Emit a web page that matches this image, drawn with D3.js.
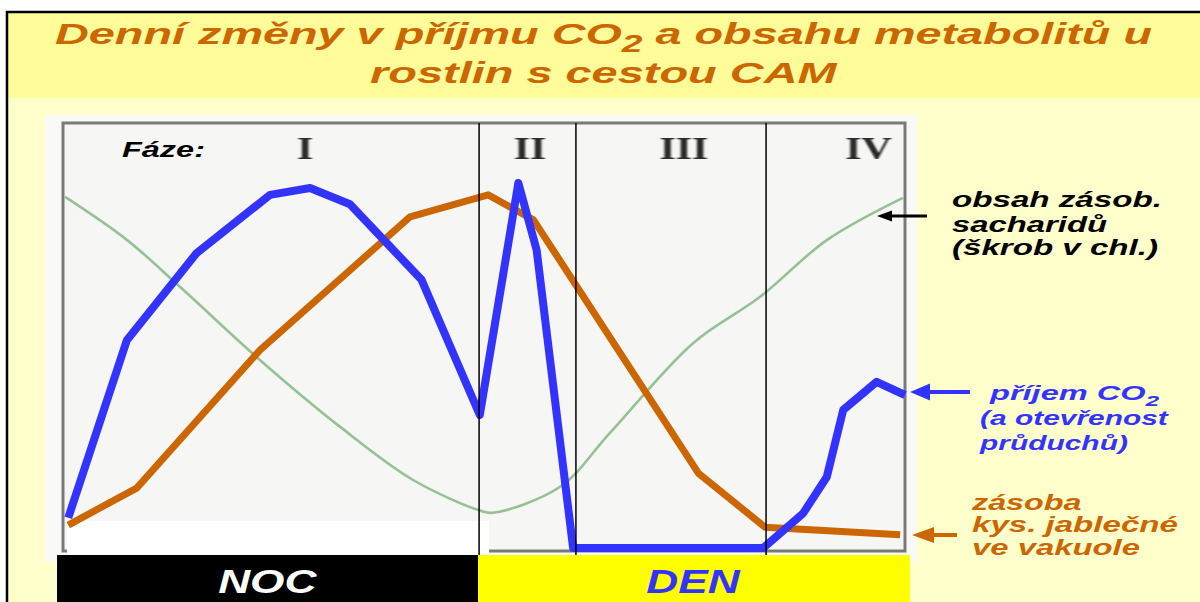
<!DOCTYPE html>
<html><head><meta charset="utf-8">
<script src="https://cdn.jsdelivr.net/npm/d3@7"></script>
<style>html,body{margin:0;padding:0;background:#fff;}svg{display:block;}</style>
</head><body>
<svg id="c" width="1200" height="602"></svg>
<script>
// ---- data (time in hours 0–24, relative level 0–100) ----
const blueT   = [0.15, 1.82, 3.81, 5.90, 7.04, 8.18, 10.22, 11.88, 12.98, 13.50, 14.54, 19.96, 21.10, 21.77, 22.24, 23.19, 24.0];
const blueV   = [7.1, 48.9, 69.4, 83.1, 84.7, 80.9, 63.1, 31.3, 85.9, 70.1, 0, 0, 8.2, 16.7, 32.5, 39.1, 36.0];
const orangeT = [0.15, 2.10, 5.62, 9.89, 12.12, 13.41, 18.11, 20.01, 23.86];
const orangeV = [5.4, 14.1, 46.6, 77.9, 83.1, 77.2, 17.6, 4.9, 3.1];
const greenT  = [0.06, 1.82, 3.34, 5.62, 7.90, 9.98, 11.89, 12.26, 14.17, 15.59, 17.96, 19.87, 21.78, 23.94];
const greenV  = [82.6, 72.5, 61.4, 44.2, 28.5, 16.0, 8.8, 8.3, 14.4, 27.1, 48.2, 59.1, 72.5, 82.4];
const phaseBounds = [11.86, 14.62, 20.04];
const phaseLabels = ["I", "II", "III", "IV"];
const phaseLabelT = [6.90, 13.31, 17.70, 22.97];
const periods = ["NOC", "DEN"];
const periodBounds = [-0.17, 11.83, 24.14];
const titleLines = ["Denní změny v příjmu CO", "2", " a obsahu metabolitů u", "rostlin s cestou CAM"];
const sugarLabel = ["obsah zásob.", "sacharidů", "(škrob v chl.)"];
const co2Label = ["příjem CO", "2", "(a otevřenost", "průduchů)"];
const malateLabel = ["zásoba", "kys. jablečné", "ve vakuole"];

const svg = d3.select("#c");
const x = d3.scaleLinear().domain([0, 24]).range([63, 905]);
const y = d3.scaleLinear().domain([0, 100]).range([548, 123]);
const FONT = "'Liberation Sans', Arial, sans-serif";

function fit(sel, x0, x1) {
  const w = sel.node().getBBox().width;
  sel.attr("transform", `translate(${x0},0) scale(${(x1 - x0) / w},1)`);
  return sel;
}

// ---- background ----
svg.append("rect").attr("x", 7).attr("y", 12).attr("width", 1193).attr("height", 590).attr("fill", "#FFFFCC");
svg.append("rect").attr("x", 7).attr("y", 12).attr("width", 1193).attr("height", 86).attr("fill", "#FFFC99");
svg.append("line").attr("x1", 6).attr("x2", 1200).attr("y1", 12).attr("y2", 12).attr("stroke", "#000").attr("stroke-width", 2.5);
svg.append("line").attr("x1", 7).attr("x2", 7).attr("y1", 11).attr("y2", 602).attr("stroke", "#000").attr("stroke-width", 2.5);

// ---- title ----
const t1 = svg.append("text").attr("x", 0).attr("y", 44)
  .attr("font-family", FONT).attr("font-weight", "bold").attr("font-style", "italic")
  .attr("font-size", 29).attr("fill", "#CC6600");
t1.append("tspan").text(titleLines[0]);
t1.append("tspan").attr("dy", 8).attr("font-size", 23).text(titleLines[1]);
t1.append("tspan").attr("dy", -8).text(titleLines[2]);
fit(t1, 55, 1153);
const t2 = svg.append("text").attr("x", 0).attr("y", 83)
  .attr("font-family", FONT).attr("font-weight", "bold").attr("font-style", "italic")
  .attr("font-size", 29).attr("fill", "#CC6600").text(titleLines[3]);
fit(t2, 370, 838);

// ---- plot backdrop ----
const defs = svg.append("defs");
defs.append("filter").attr("id", "blur").append("feGaussianBlur").attr("stdDeviation", 0.6);
svg.append("rect").attr("x", 45).attr("y", 115).attr("width", 872).attr("height", 447).attr("fill", "#F9F9F8");
svg.append("rect").attr("x", x(0)).attr("y", y(100)).attr("width", x(24) - x(0)).attr("height", 551 - y(100))
  .attr("fill", "#F6F6F5").attr("stroke", "#7a7a7a").attr("stroke-width", 3).attr("filter", "url(#blur)");
// white cover patch
svg.append("rect").attr("x", 67).attr("y", 521).attr("width", 489 - 67).attr("height", 34).attr("fill", "#FFFFFF");

// ---- lines ----
const lineG = d3.line().x(d => x(d[0])).y(d => y(d[1])).curve(d3.curveCatmullRom.alpha(0.5));
svg.append("path").datum(d3.zip(greenT, greenV))
  .attr("d", lineG).attr("fill", "none")
  .attr("stroke", "#84B884").attr("stroke-width", 2.6).attr("stroke-opacity", 0.85);
const lineL = d3.line().x(d => x(d[0])).y(d => y(d[1])).curve(d3.curveLinear);
svg.append("path").datum(d3.zip(orangeT, orangeV))
  .attr("d", lineL).attr("fill", "none")
  .attr("stroke", "#CC6600").attr("stroke-width", 7).attr("stroke-linejoin", "round");
svg.append("path").datum(d3.zip(blueT, blueV))
  .attr("d", lineL).attr("fill", "none")
  .attr("stroke", "#3333FF").attr("stroke-width", 8).attr("stroke-linejoin", "round");

// ---- phase dividers & labels ----
svg.selectAll("line.div").data(phaseBounds).join("line").attr("class", "div")
  .attr("x1", d => x(d)).attr("x2", d => x(d)).attr("y1", y(100)).attr("y2", 555)
  .attr("stroke", "#000").attr("stroke-width", 1.5);
const fz = svg.append("text").attr("x", 0).attr("y", 157)
  .attr("font-family", FONT).attr("font-weight", "bold").attr("font-style", "italic")
  .attr("font-size", 22).attr("fill", "#000").text("Fáze:");
fit(fz, 122, 205);
phaseLabels.forEach((p, i) => {
  const t = svg.append("text").attr("x", 0).attr("y", 159)
    .attr("font-family", "'Liberation Serif', 'Times New Roman', serif").attr("font-weight", "bold")
    .attr("font-size", 31).attr("fill", "#2a2a2a").attr("filter", "url(#blur)").text(p);
  const w = t.node().getBBox().width * 1.35;
  fit(t, x(phaseLabelT[i]) - w / 2, x(phaseLabelT[i]) + w / 2);
});

// ---- day / night bar ----
const barCol = ["#000000", "#FFFF00"], barTxt = ["#FFFFFF", "#3333FF"];
periods.forEach((p, i) => {
  svg.append("rect").attr("x", x(periodBounds[i])).attr("y", 555)
    .attr("width", x(periodBounds[i + 1]) - x(periodBounds[i])).attr("height", 47).attr("fill", barCol[i]);
  const t = svg.append("text").attr("x", 0).attr("y", 593)
    .attr("font-family", FONT).attr("font-weight", "bold").attr("font-style", "italic")
    .attr("font-size", 34).attr("fill", barTxt[i]).text(p);
  const cx = (x(periodBounds[i]) + x(periodBounds[i + 1])) / 2;
  const w = t.node().getBBox().width * 1.3;
  fit(t, cx - w / 2, cx + w / 2);
});

// ---- annotations ----
function arrow(x0, x1, yy, col, hl, hh, sw) {
  svg.append("line").attr("x1", x0).attr("x2", x1 + hl - 1).attr("y1", yy).attr("y2", yy)
    .attr("stroke", col).attr("stroke-width", sw);
  svg.append("path").attr("d", `M${x1},${yy} L${x1 + hl},${yy - hh / 2} L${x1 + hl},${yy + hh / 2} Z`).attr("fill", col);
}
arrow(927, 877, 216, "#000", 15, 11, 3);
arrow(970, 910, 392, "#3333FF", 20, 17, 4);
arrow(957, 912, 535, "#CC6600", 22, 16, 4);

function label(txt, x0, x1, yb, col, fs, sub) {
  const t = svg.append("text").attr("x", 0).attr("y", yb)
    .attr("font-family", FONT).attr("font-weight", "bold").attr("font-style", "italic")
    .attr("font-size", fs).attr("fill", col);
  t.append("tspan").text(txt);
  if (sub) t.append("tspan").attr("dy", 6).attr("font-size", fs * 0.75).text(sub);
  fit(t, x0, x1);
}
label(sugarLabel[0], 952, 1162, 207, "#000", 22);
label(sugarLabel[1], 952, 1108, 232, "#000", 22);
label(sugarLabel[2], 952, 1158, 255, "#000", 22);
label(co2Label[0], 990, 1162, 400, "#3333FF", 20, co2Label[1]);
label(co2Label[2], 980, 1170, 425, "#3333FF", 20);
label(co2Label[3], 980, 1130, 450, "#3333FF", 20);
label(malateLabel[0], 972, 1083, 510, "#CC6600", 22);
label(malateLabel[1], 972, 1178, 532, "#CC6600", 22);
label(malateLabel[2], 972, 1140, 555, "#CC6600", 22);
</script>
</body></html>
